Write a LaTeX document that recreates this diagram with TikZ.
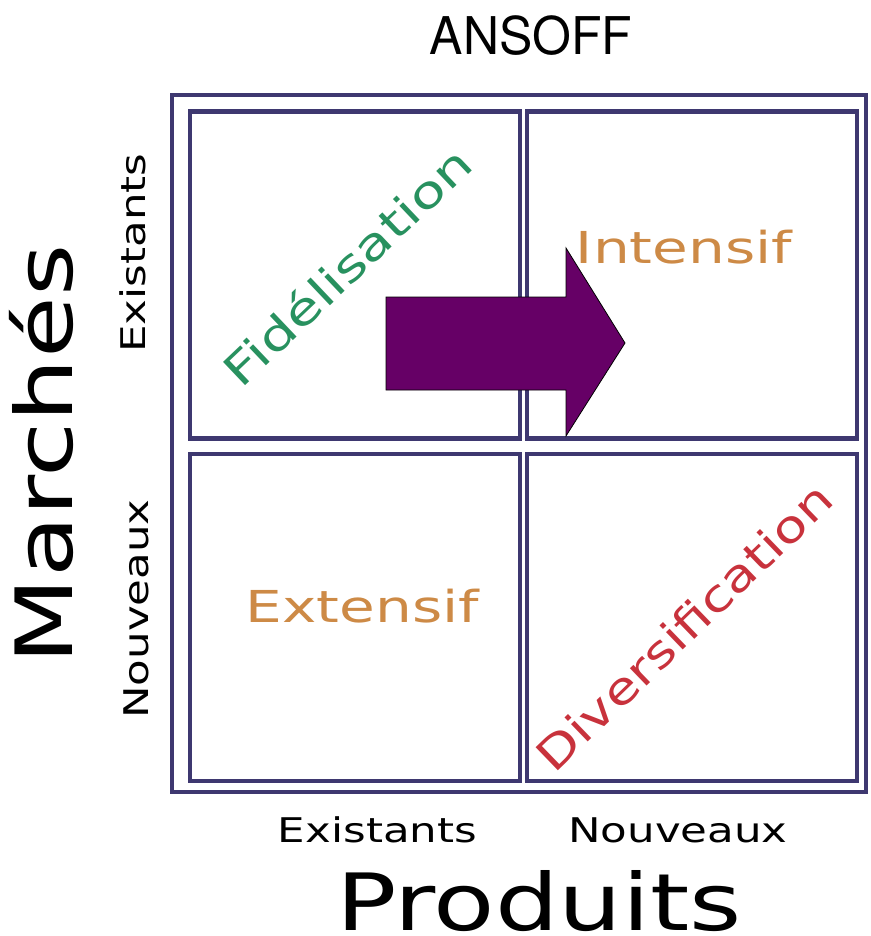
\documentclass[tikz,border=0pt]{standalone}
\usepackage{fontspec}
\setmainfont{DejaVu Sans}
\newfontfamily\titlefont{TeX Gyre Heros}
\usepackage{graphicx}

\definecolor{gridline}{RGB}{62,56,112}
\definecolor{arrowpurple}{RGB}{102,0,102}
\definecolor{fidgreen}{RGB}{40,145,95}
\definecolor{intorange}{RGB}{205,138,70}
\definecolor{divred}{RGB}{200,50,60}

% stretch a text sideways
\newcommand{\widetext}[2]{\scalebox{#1}[1]{#2}}

\begin{document}
\begin{tikzpicture}[x=1pt,y=-1pt]
  \useasboundingbox (0,0) rectangle (870,936);
  \clip (0,0) rectangle (870,936);
  \tikzstyle{cell}=[draw=gridline,line width=4.5pt,inner sep=0pt,
                    minimum width=330pt,minimum height=327pt]
  \tikzstyle{axislabel}=[inner sep=0pt,anchor=base,
                         font=\fontsize{34}{34}\selectfont]
  \tikzstyle{bigaxis}=[inner sep=0pt,anchor=base,
                       font=\fontsize{79}{79}\selectfont]
  \tikzstyle{strategy}=[inner sep=0pt,font=\fontsize{44}{44}\selectfont]

  % outer frame and the four cells
  \node[cell,minimum width=694pt,minimum height=697pt] (frame) at (519,443.5) {};
  \node[cell] (fid) at (355,275) {};
  \node[cell] (int) at (692,275) {};
  \node[cell] (ext) at (355,617.5) {};
  \node[cell] (div) at (692,617.5) {};

  \node[inner sep=0pt,anchor=base,font=\titlefont\fontsize{52}{52}\selectfont]
    (title) at (531,55) {\widetext{0.96}{ANSOFF}};

  % axes
  \node[bigaxis,rotate=90] (markets) at (72,454.5) {\widetext{1.27}{Marchés}};
  \node[axislabel,rotate=90] (mexist) at (145,253) {\widetext{1.28}{Existants}};
  \node[axislabel,rotate=90] (mnew) at (148,609) {\widetext{1.28}{Nouveaux}};
  \node[axislabel] (pexist) at (377.5,842) {\widetext{1.28}{Existants}};
  \node[axislabel] (pnew) at (678,842) {\widetext{1.28}{Nouveaux}};
  \node[bigaxis] (products) at (539,930) {\widetext{1.27}{Produits}};

  % strategies
  \node[strategy,text=fidgreen,rotate=43.5] (fidtxt) at (347,266) {\widetext{1.3}{Fidélisation}};
  \node[strategy,text=intorange,anchor=base] (inttxt) at (684,263) {\widetext{1.32}{Intensif}};
  \node[strategy,text=intorange,anchor=base] (exttxt) at (362.5,622) {\widetext{1.32}{Extensif}};
  \node[strategy,text=divred,rotate=44] (divtxt) at (684,627) {\widetext{1.24}{Diversification}};

  % big arrow
  \draw[fill=arrowpurple,draw=black,line width=0.8pt]
    (386,297) -- (566,297) -- (566,248) -- (625,343) -- (566,436)
    -- (566,390) -- (386,390) -- cycle;
\end{tikzpicture}
\end{document}
